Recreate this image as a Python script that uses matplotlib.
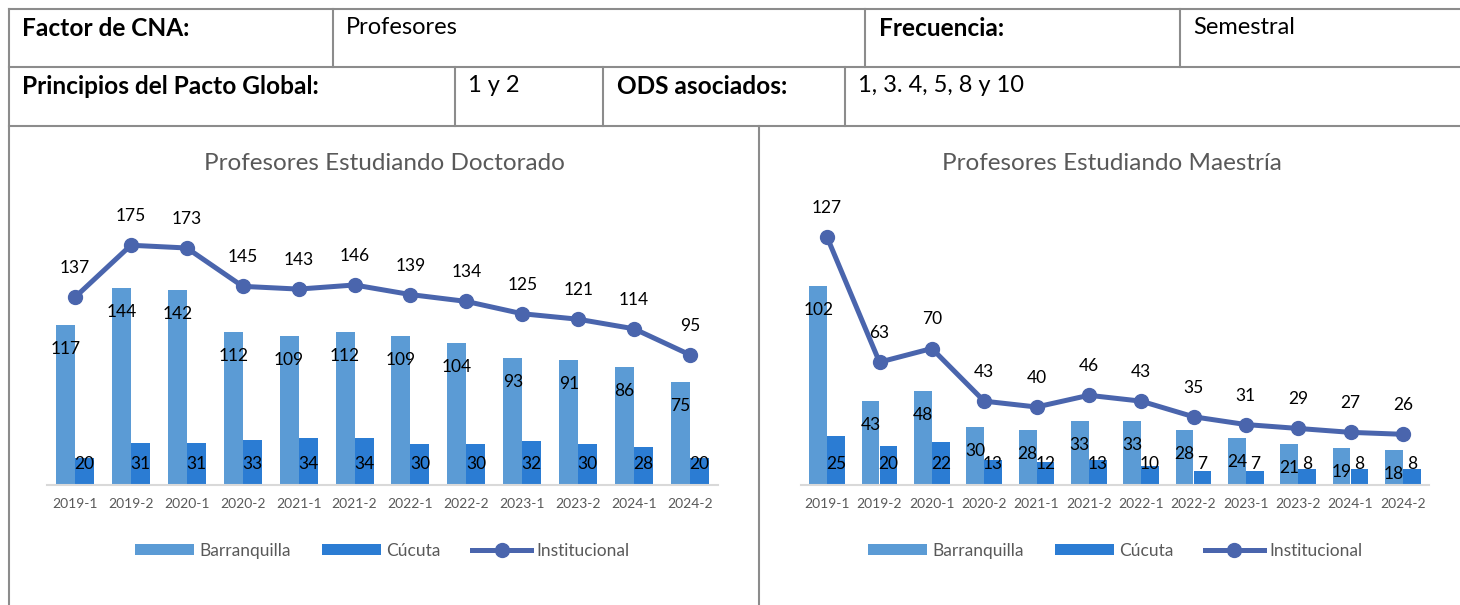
import matplotlib
matplotlib.use('Agg')
import matplotlib.pyplot as plt
import numpy as np

# datos de las dos graficas
periodos = ['2019-1', '2019-2', '2020-1', '2020-2', '2021-1', '2021-2',
            '2022-1', '2022-2', '2023-1', '2023-2', '2024-1', '2024-2']

doc_barranquilla = [117, 144, 142, 112, 109, 112, 109, 104, 93, 91, 86, 75]
doc_cucuta = [20, 31, 31, 33, 34, 34, 30, 30, 32, 30, 28, 20]
doc_institucional = [137, 175, 173, 145, 143, 146, 139, 134, 125, 121, 114, 95]

mae_barranquilla = [102, 43, 48, 30, 28, 33, 33, 28, 24, 21, 19, 18]
mae_cucuta = [25, 20, 22, 13, 12, 13, 10, 7, 7, 8, 8, 8]
mae_institucional = [127, 63, 70, 43, 40, 46, 43, 35, 31, 29, 27, 26]

# celdas de la tabla
fila1 = ['Factor de CNA:', 'Profesores', 'Frecuencia:', 'Semestral']
fila2 = ['Principios del Pacto Global:', '1 y 2', 'ODS asociados:', '1, 3. 4, 5, 8 y 10']

plt.rcParams['font.family'] = ['Lato', 'DejaVu Sans']

W, H = 1460, 605
fig = plt.figure(figsize=(W / 100, H / 100), dpi=100)

# capa de fondo en pixeles para la tabla
base = fig.add_axes([0, 0, 1, 1])
base.set_xlim(0, W)
base.set_ylim(H, 0)
base.axis('off')

borde = '#8C8C8C'
lw = 1.5
for y in [9, 67, 126]:
    base.plot([9, W], [y, y], color=borde, lw=lw)
base.plot([9, 9], [9, H], color=borde, lw=lw)
for x in [333, 865, 1180]:
    base.plot([x, x], [9, 67], color=borde, lw=lw)
for x in [455, 603, 845]:
    base.plot([x, x], [67, 126], color=borde, lw=lw)
base.plot([759, 759], [126, H], color=borde, lw=lw)

for x, txt, neg in zip([22, 346, 879, 1193], fila1, [True, False, True, False]):
    base.text(x, 28, txt, fontsize=17.6 if neg else 17, fontweight='bold' if neg else 'normal',
              va='center', ha='left', color='black')
for x, txt, neg in zip([22, 468, 617, 858], fila2, [True, False, True, False]):
    base.text(x, 86, txt, fontsize=17.6 if neg else 17, fontweight='bold' if neg else 'normal',
              va='center', ha='left', color='black')

base.text(384, 164, 'Profesores Estudiando Doctorado', fontsize=17.5,
          color='#595959', ha='center', va='center')
base.text(1112, 164, 'Profesores Estudiando Maestría', fontsize=17.5,
          color='#595959', ha='center', va='center')


def px_axes(x0, y0, x1, y1):
    return fig.add_axes([x0 / W, 1 - y1 / H, (x1 - x0) / W, (y1 - y0) / H])


def grafica(ax, barr, cuc, inst, ymax):
    x = np.arange(len(periodos))
    w = 0.34
    b1 = ax.bar(x - w / 2, barr, w, color='#5B9BD5', label='Barranquilla')
    b2 = ax.bar(x + w / 2, cuc, w, color='#2B7CD3', label='Cúcuta')
    l1, = ax.plot(x, inst, color='#4A65AD', lw=3.6, marker='o', markersize=10,
                  label='Institucional')
    for i in range(len(x)):
        ax.annotate(str(barr[i]), (x[i] - w / 2, barr[i]), xytext=(0, -24),
                    textcoords='offset pixels', ha='center', va='center', fontsize=12.5)
        ax.annotate(str(cuc[i]), (x[i] + w / 2, 0), xytext=(0, 21),
                    textcoords='offset pixels', ha='center', va='center', fontsize=12.5)
        ax.annotate(str(inst[i]), (x[i], inst[i]), xytext=(0, 29),
                    textcoords='offset pixels', ha='center', va='center', fontsize=12.5)
    ax.set_xlim(-0.5, len(x) - 0.5)
    ax.set_ylim(0, ymax)
    ax.set_xticks(x)
    ax.set_xticklabels(periodos, fontsize=10, color='#595959')
    ax.tick_params(axis='x', length=0, pad=9)
    ax.set_yticks([])
    for s in ['top', 'right', 'left']:
        ax.spines[s].set_visible(False)
    ax.spines['bottom'].set_color('#D9D9D9')
    ax.spines['bottom'].set_linewidth(1.5)
    ax.patch.set_alpha(0)
    ax.legend([b1, b2, l1], ['Barranquilla', 'Cúcuta', 'Institucional'],
              loc='center', bbox_to_anchor=(0.5, -0.24), ncol=3, frameon=False,
              fontsize=12.5, labelcolor='#595959', handlelength=3.4, handleheight=0.6,
              columnspacing=1.8, handletextpad=0.3)


ax1 = px_axes(47, 211, 718, 485)
grafica(ax1, doc_barranquilla, doc_cucuta, doc_institucional, 200)

ax2 = px_axes(801, 212, 1429, 485)
grafica(ax2, mae_barranquilla, mae_cucuta, mae_institucional, 140)

fig.savefig('out.png', dpi=100)
